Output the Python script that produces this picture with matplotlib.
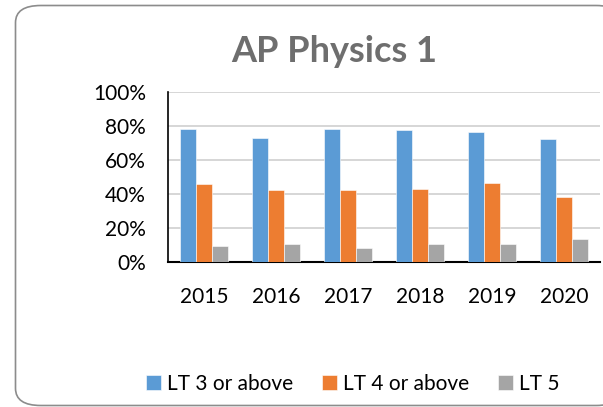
import numpy as np
import matplotlib
matplotlib.use('Agg')
import matplotlib.pyplot as plt
from matplotlib.patches import FancyBboxPatch

plt.rcParams['font.family'] = ['Lato', 'DejaVu Sans']

# data
years = ['2015', '2016', '2017', '2018', '2019', '2020']
series_names = ['LT 3 or above', 'LT 4 or above', 'LT 5']
lt3 = [0.78, 0.73, 0.78, 0.776, 0.763, 0.722]
lt4 = [0.46, 0.424, 0.424, 0.427, 0.463, 0.382]
lt5 = [0.094, 0.104, 0.084, 0.106, 0.104, 0.133]
colors = ['#5B9BD5', '#ED7D31', '#A5A5A5']

fig = plt.figure(figsize=(6.03, 4.07), dpi=100)

# rounded chart border (right side runs off the image)
border = FancyBboxPatch((15.5 / 603, 1.5 / 407), 606 / 603, 400 / 407,
                        boxstyle='round,pad=0,rounding_size=0.042',
                        transform=fig.transFigure, facecolor='white',
                        edgecolor='#8c8c8c', linewidth=1.2, zorder=-5)
fig.patches.append(border)

ax = fig.add_axes([168 / 603, 1 - 262 / 407, 432 / 603, 170 / 407])
ax.set_facecolor('none')

x = np.arange(len(years))
w = 0.222
for i, vals in enumerate([lt3, lt4, lt5]):
    ax.bar(x + (i - 1) * w, vals, width=w, color=colors[i],
           edgecolor='white', linewidth=0.4, label=series_names[i], zorder=3)

ax.set_xlim(-0.5, len(years) - 0.5)
ax.set_ylim(0, 1)
ax.set_yticks([0, 0.2, 0.4, 0.6, 0.8, 1.0])
ax.set_yticklabels(['0%', '20%', '40%', '60%', '80%', '100%'])
ax.set_xticks(x)
ax.set_xticklabels(years)
ax.grid(axis='y', color='#d0d0d0', linewidth=1.2, zorder=0)
ax.tick_params(axis='both', length=0, labelsize=15, colors='black')
ax.tick_params(axis='y', pad=16)
ax.tick_params(axis='x', pad=18)
for s in ['top', 'right']:
    ax.spines[s].set_visible(False)
ax.spines['left'].set_linewidth(1.2)
ax.spines['bottom'].set_linewidth(1.5)

fig.text(334 / 603, 1 - 52 / 407, 'AP Physics 1', ha='center', va='center',
         fontsize=26, fontweight='bold', color='#6e6e6e')

fig.legend(loc='center', bbox_to_anchor=(353 / 603, 1 - 384 / 407), ncol=3,
           frameon=False, fontsize=15, handlelength=0.7, handleheight=0.7,
           handletextpad=0.3, columnspacing=1.4)

fig.savefig('out.png', dpi=100)
